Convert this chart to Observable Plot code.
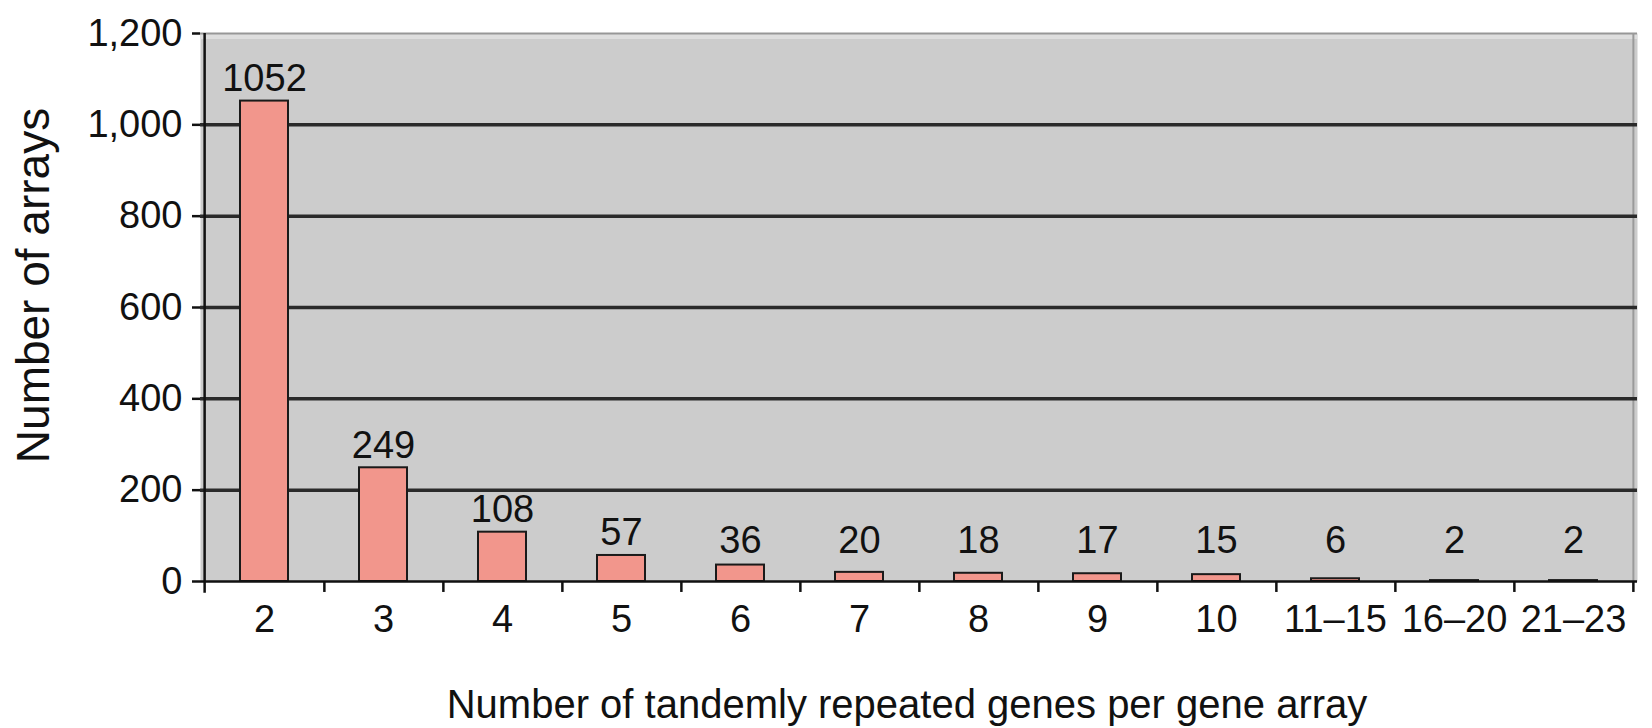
<!DOCTYPE html>
<html>
<head>
<meta charset="utf-8">
<script src="https://cdn.jsdelivr.net/npm/d3@7"></script>
<script src="https://cdn.jsdelivr.net/npm/@observablehq/plot@0.6"></script>
<style>
  html, body { margin: 0; padding: 0; background: #ffffff; }
  #chart svg { display: block; }
</style>
</head>
<body>
<div id="chart"></div>
<script>
// Data
const categories = ["2", "3", "4", "5", "6", "7", "8", "9", "10", "11\u201315", "16\u201320", "21\u201323"];
const counts = [1052, 249, 108, 57, 36, 20, 18, 17, 15, 6, 2, 2];
const yTicks = [0, 200, 400, 600, 800, 1000, 1200];
const gridValues = [200, 400, 600, 800, 1000];
const xTitle = "Number of tandemly repeated genes per gene array";
const yTitle = "Number of arrays";

const data = categories.map((c, i) => ({cat: c, value: counts[i]}));

const W = 1652, H = 728;
const mL = 200, mR = 15, mT = 33, mB = 147;
const step = (W - mL - mR) / categories.length;
const font = "Liberation Sans, Arial, Helvetica, sans-serif";

const chart = Plot.plot({
  width: W,
  height: H,
  marginLeft: mL,
  marginRight: mR,
  marginTop: mT,
  marginBottom: mB,
  style: {fontFamily: font, background: "#ffffff", color: "#111"},
  x: {domain: categories, paddingInner: 0.6, paddingOuter: 0.3, label: null},
  y: {domain: [0, 1200], label: null},
  marks: [
    Plot.frame({fill: "#cccccc", stroke: null}),
    // top border (light bevel)
    Plot.ruleY([1200], {stroke: "#dedede", strokeWidth: 5, dy: 3}),
    Plot.ruleY([1200], {stroke: "#979797", strokeWidth: 2}),
    // right border
    Plot.ruleX([categories[categories.length - 1]], {dx: step / 2, y1: 0, y2: 1200, stroke: "#9a9a9a", strokeWidth: 2}),
    // horizontal grid lines
    Plot.ruleY(gridValues, {stroke: "#2a2a2a", strokeWidth: 3.5}),
    // bars
    Plot.barY(data, {x: "cat", y: "value", fill: "#f2968c", stroke: "#1a1a1a", strokeWidth: 2}),
    // zero baseline
    Plot.ruleY([0], {stroke: "#111", strokeWidth: 2.5}),
    // left axis line extended below zero
    Plot.ruleX([categories[0]], {dx: -step / 2, y1: -26, y2: 1200, stroke: "#111", strokeWidth: 2.5}),
    // category boundary ticks below the axis
    Plot.ruleX(categories, {x: d => d, dx: step / 2, y1: 0, y2: -24, stroke: "#111", strokeWidth: 2.5}),
    Plot.axisY({ticks: yTicks, tickFormat: d3.format(","), tickSize: 8, tickPadding: 10, fontSize: 38, label: null, strokeWidth: 2.5}),
    Plot.axisX({tickSize: 0, tickPadding: 24, fontSize: 38, label: null}),
    // value labels
    Plot.text(data, {x: "cat", y: d => Math.max(d.value, 40), text: d => String(d.value), dy: -10, lineAnchor: "bottom", fontSize: 38, fill: "#111"}),
    // axis titles
    Plot.text([xTitle], {frameAnchor: "bottom", textAnchor: "middle", lineAnchor: "bottom", dx: -12, dy: 136, fontSize: 40, fill: "#111"}),
    Plot.text([yTitle], {frameAnchor: "left", textAnchor: "middle", lineAnchor: "middle", rotate: -90, dx: -166, dy: -22, fontSize: 46, fill: "#111"})
  ]
});

document.getElementById("chart").appendChild(chart);
</script>
</body>
</html>
